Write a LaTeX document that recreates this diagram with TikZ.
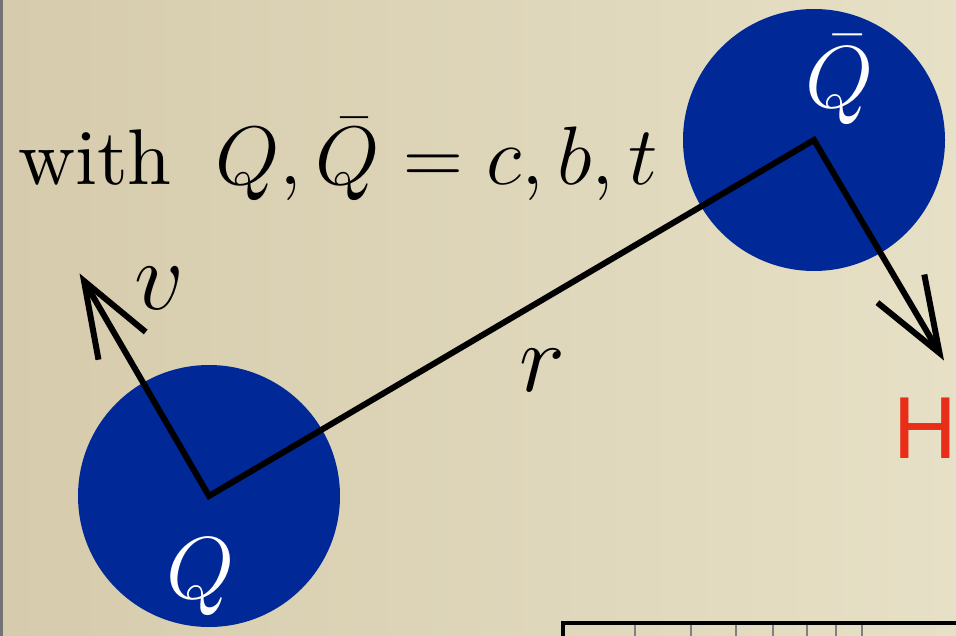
\RequirePackage{fix-cm}
\documentclass[tikz,border=0pt]{standalone}
\usepackage{fontspec}
\newfontfamily\hfont{Liberation Sans}
\newfontfamily\wfont{lmroman10-regular.otf}
\usetikzlibrary{calc}
\definecolor{qblue}{RGB}{0,40,150}
\definecolor{hred}{RGB}{232,45,25}
\definecolor{bgl}{RGB}{214,203,172}
\definecolor{bgr}{RGB}{230,224,198}
\tikzset{
  ball/.style={circle, fill=qblue, minimum size=262pt, inner sep=0pt},
  stick/.style={line width=6pt, line join=miter, line cap=butt},
  bigtxt/.style={inner sep=0pt, font=\fontsize{83}{95}\selectfont},
  lab/.style={inner sep=0pt, font=\fontsize{98}{110}\selectfont},
  qlab/.style={inner sep=0pt, text=white, font=\fontsize{88}{100}\selectfont},
}
\begin{document}
\begin{tikzpicture}[x=1pt,y=-1pt]
\useasboundingbox (0,0) rectangle (956,636);
\clip (0,0) rectangle (956,636);
\shade[left color=bgl, right color=bgr] (0,0) rectangle (956,636);
\draw[line width=5pt, color=black!55] (0,-5) -- (0,641);
% balls
\node[ball] (Q) at (209,496) {};
\node[ball] (Qb) at (814,140) {};
% arrow tips
\coordinate (T1) at (84,281);
\coordinate (T2) at (939.5,353);
\draw[stick] (T1) -- (Q.center) -- (Qb.center) -- (T2);
\draw[stick] ($(T1)+(14.5,78.7)$) -- (T1) -- ++(61.7,51);
\draw[stick] ($(T2)+(-15.2,-78.5)$) -- (T2) -- ++(-62.1,-50.4);
% labels
\node[qlab] (Qlab) at (201,577) {$Q$};
\node[qlab] (Qblab) at (840,80) {$\bar Q$};
\node[lab] (vlab) at (159,288) {$v$};
\node[lab] (rlab) at (542,370) {$r$};
\node[inner sep=0pt, font=\wfont\fontsize{79}{90}\selectfont, anchor=base west] (with) at (18,185) {with};
\node[bigtxt, anchor=base west] (eq) at (215,185) {$Q,\bar Q=c,b,t$};
\node[inner sep=0pt, anchor=base west, text=hred, font=\hfont\fontsize{88}{100}\selectfont] (H) at (893,458) {H};
% table edge
\coordinate (tc) at (563,623);
\draw[line width=4pt] (563,645) -- (tc) -- (965,623);
\foreach \x in {635,691,736,773,807,836,862}
  \draw[line width=1.5pt, color=black!50] (\x,625) -- (\x,645);
\end{tikzpicture}
\end{document}
